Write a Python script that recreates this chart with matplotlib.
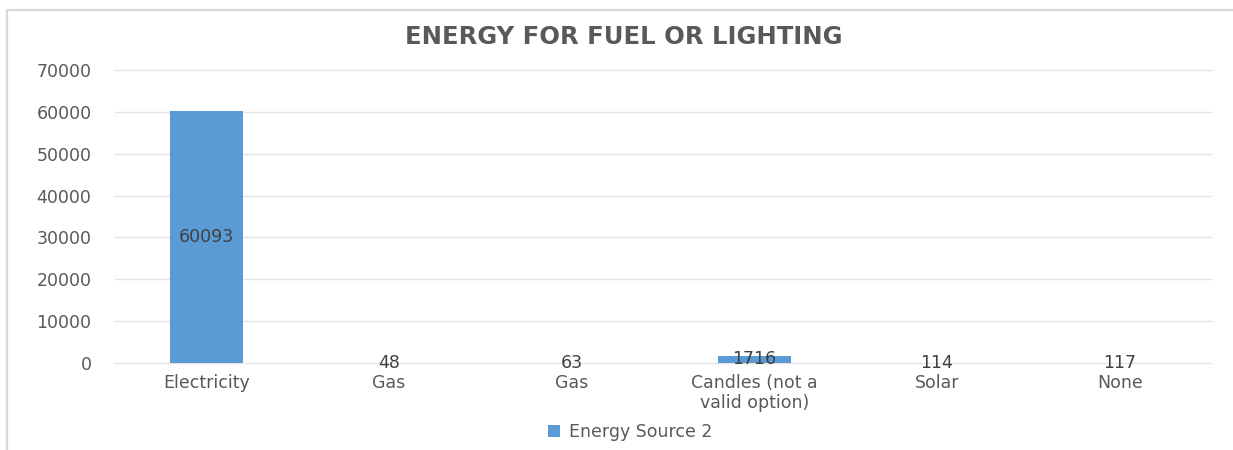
import matplotlib
matplotlib.use("Agg")
import matplotlib.pyplot as plt
from matplotlib.patches import Rectangle, Patch

categories = ["Electricity", "Gas", "Gas", "Candles (not a\nvalid option)", "Solar", "None"]
values = [60093, 48, 63, 1716, 114, 117]
series_name = "Energy Source 2"
title = "ENERGY FOR FUEL OR LIGHTING"
y_ticks = [0, 10000, 20000, 30000, 40000, 50000, 60000, 70000]

bar_color = "#5b9bd5"
grid_color = "#e4e4e4"
tick_color = "#595959"
label_color = "#404040"

plt.rcParams["font.family"] = ["DejaVu Sans"]

fig = plt.figure(figsize=(12.33, 4.5), dpi=100)
fig.patch.set_facecolor("white")

# outer chart frame (top and left edges)
fig.add_artist(Rectangle((7 / 1233, -0.1), 1.2, 1 - 10 / 450 + 0.1,
                         transform=fig.transFigure, fill=False,
                         edgecolor="#d9d9d9", linewidth=1.6))

ax = fig.add_axes([115 / 1233, 1 - 363 / 450, (1211 - 115) / 1233, (363 - 70) / 450])
x = range(len(categories))

# horizontal gridlines, drawn unclipped so the edge lines keep full width
for t in y_ticks:
    ax.axhline(t, color=grid_color, linewidth=1.0, zorder=0, clip_on=False)

ax.bar(x, values, width=0.4, color=bar_color, zorder=3)

ax.set_ylim(0, 70000)
ax.set_xlim(-0.5, len(categories) - 0.5)
ax.set_yticks(y_ticks)
ax.set_yticklabels([str(t) for t in y_ticks])
ax.set_xticks(list(x))
ax.set_xticklabels(categories, linespacing=1.15)
for s in ax.spines.values():
    s.set_visible(False)
ax.tick_params(axis="both", length=0, labelsize=12.5, colors=tick_color)
ax.tick_params(axis="y", pad=17)
ax.tick_params(axis="x", pad=8)

for xi, v in zip(x, values):
    ax.text(xi, v / 2, str(v), ha="center", va="center",
            fontsize=12.5, color=label_color, zorder=4)

fig.text(624 / 1233, 1 - 37 / 450, title, ha="center", va="center",
         fontsize=17.5, fontweight="bold", color=tick_color)

handle = Patch(facecolor=bar_color, edgecolor="none")
fig.legend([handle], [series_name], loc="center", bbox_to_anchor=(630 / 1233, 1 - 432 / 450),
           frameon=False, fontsize=12.5, labelcolor=tick_color,
           handlelength=0.7, handleheight=0.7, handletextpad=0.5)

fig.savefig("out.png", dpi=100, facecolor="white")
